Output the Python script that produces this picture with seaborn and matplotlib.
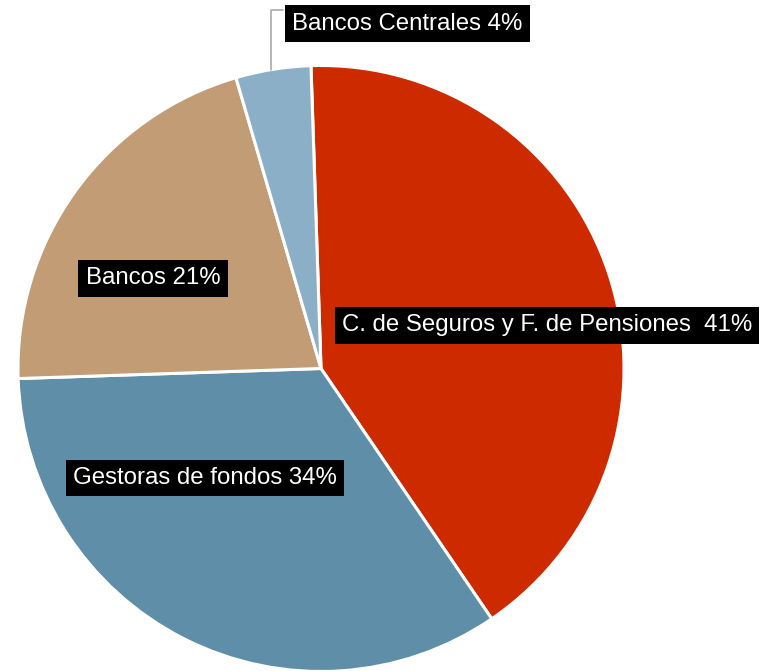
import matplotlib
matplotlib.use("Agg")
import matplotlib.pyplot as plt
import seaborn as sns

# datos
categorias = ["C. de Seguros y F. de Pensiones", "Gestoras de fondos", "Bancos", "Bancos Centrales"]
valores = [41, 34, 21, 4]
etiquetas = ["C. de Seguros y F. de Pensiones  41%", "Gestoras de fondos 34%", "Bancos 21%", "Bancos Centrales 4%"]
colores = ["#cd2a00", "#5f8fa8", "#c19c75", "#8aafc6"]

sns.set_theme(style="white")
plt.rcParams["font.family"] = ["Liberation Sans", "DejaVu Sans"]

W, H = 769, 671
fig = plt.figure(figsize=(W / 100, H / 100), dpi=100)
ax = fig.add_axes([0, 0, 1, 1])

cx, cy, r = 321, H - 368.5, 303
ax.pie(valores, colors=sns.color_palette(colores), startangle=91.9, counterclock=False,
       center=(cx, cy), radius=r, frame=True,
       wedgeprops=dict(edgecolor="white", linewidth=2.2))
ax.set_xlim(0, W); ax.set_ylim(0, H)
ax.set_aspect("auto")
ax.axis("off")

# posiciones de las etiquetas (px desde arriba)
pos = [(547, 325.5), (205, 478), (153, 278.5), (407.5, 23.5)]
caja = dict(boxstyle="square,pad=0.3", facecolor="black", edgecolor="none")
for txt, (x, y) in zip(etiquetas, pos):
    ax.text(x, H - y, txt, color="white", fontsize=17.3, ha="center", va="center",
            bbox=caja, zorder=5)

# linea guia de Bancos Centrales
ax.plot([271, 271, 283], [H - 70, H - 10, H - 10], color="#aaaaaa", lw=1.2, zorder=4)

fig.savefig("out.png", dpi=100)
